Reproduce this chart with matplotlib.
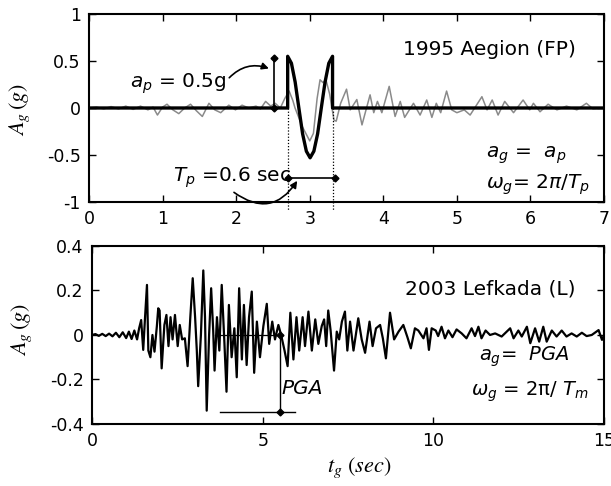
import matplotlib
matplotlib.use("Agg")
from matplotlib import pyplot as plt
import numpy as np

aeg_t = [0.0, 0.1, 0.2, 0.3, 0.4, 0.5, 0.6, 0.7, 0.8, 0.87, 0.93, 1.0, 1.06, 1.14, 1.22, 1.30,
         1.38, 1.46, 1.54, 1.63, 1.71, 1.79, 1.90, 1.99, 2.08, 2.17, 2.27, 2.33, 2.40, 2.47,
         2.53, 2.60, 2.66, 2.72, 2.77, 2.80, 2.90, 3.00, 3.05, 3.10, 3.14, 3.18, 3.22, 3.27,
         3.33, 3.36, 3.42, 3.50, 3.55, 3.64, 3.71, 3.82, 3.87, 3.92, 3.98, 4.08, 4.16, 4.23,
         4.29, 4.41, 4.50, 4.59, 4.66, 4.72, 4.78, 4.86, 4.93, 5.00, 5.10, 5.18, 5.34, 5.41,
         5.48, 5.56, 5.65, 5.77, 5.90, 5.99, 6.04, 6.13, 6.24, 6.36, 6.49, 6.63, 6.76, 6.85,
         7.0]
aeg_a = [0.0, 0.01, -0.01, 0.015, -0.01, 0.02, -0.015, 0.02, -0.02, 0.01, -0.075, 0.01, 0.04,
         -0.02, -0.06, 0.0, 0.04, -0.03, -0.09, 0.05, -0.02, -0.05, 0.03, -0.02, 0.03, 0.0,
         0.02, -0.01, 0.07, 0.02, 0.05, 0.0, 0.10, 0.18, 0.08, 0.0, -0.2, -0.35, -0.27, 0.1,
         0.3, 0.27, 0.3, 0.15, -0.13, -0.14, 0.05, 0.2, -0.02, 0.09, -0.18, 0.14, -0.05, 0.07,
         -0.05, 0.23, -0.09, 0.07, -0.10, 0.05, -0.075, 0.085, -0.10, 0.05, -0.05, 0.18, -0.02,
         -0.05, -0.02, -0.075, 0.12, -0.02, 0.085, -0.075, 0.07, -0.05, 0.085, -0.02, 0.05,
         -0.04, 0.04, -0.02, 0.02, -0.02, 0.05, -0.01, 0.0]

# ---- idealised pulse (bold)
pulse_t = [0.0, 2.70, 2.70, 2.751, 2.802, 2.852, 2.903, 2.954, 3.005, 3.056, 3.107, 3.157,
           3.208, 3.259, 3.31, 3.31, 7.0]
pulse_a = [0.0, 0.0, 0.55, 0.476, 0.275, 0.0, -0.275, -0.46, -0.53, -0.46, -0.275, 0.0,
           0.275, 0.476, 0.55, 0.0, 0.0]

# ---- 2003 Lefkada (L)
lef_t = [0.0, 0.1, 0.2, 0.3, 0.4, 0.5, 0.6, 0.7, 0.8, 0.9, 1.0, 1.08, 1.16, 1.24, 1.32, 1.38,
         1.44, 1.50, 1.55, 1.61, 1.65, 1.71, 1.77, 1.83, 1.90, 1.94, 1.98, 2.04, 2.12, 2.18,
         2.24, 2.30, 2.36, 2.43, 2.51, 2.57, 2.64, 2.72, 2.80, 2.88, 2.95, 3.02, 3.07, 3.11,
         3.19, 3.26, 3.31, 3.36, 3.43, 3.49, 3.55, 3.59, 3.66, 3.73, 3.80, 3.88, 3.94, 4.01,
         4.09, 4.17, 4.24, 4.31, 4.39, 4.45, 4.53, 4.60, 4.68, 4.75, 4.83, 4.92, 5.02, 5.12,
         5.19, 5.28, 5.36, 5.46, 5.54, 5.64, 5.73, 5.81, 5.90, 5.99, 6.07, 6.17, 6.24, 6.34,
         6.44, 6.54, 6.63, 6.73, 6.80, 6.86, 6.92, 6.99, 7.09, 7.17, 7.24, 7.32, 7.41, 7.48,
         7.56, 7.66, 7.80, 7.90, 8.00, 8.13, 8.22, 8.32, 8.44, 8.52, 8.61, 8.73, 8.85, 8.98,
         9.12, 9.24, 9.34, 9.46, 9.56, 9.71, 9.80, 9.87, 9.95, 10.07, 10.14, 10.24, 10.34,
         10.44, 10.56, 10.68, 10.83, 10.97, 11.12, 11.22, 11.32, 11.41, 11.53, 11.66, 11.81,
         12.0, 12.25, 12.35, 12.49, 12.59, 12.74, 12.84, 12.98, 13.10, 13.22, 13.32, 13.47,
         13.61, 13.76, 13.90, 14.05, 14.20, 14.35, 14.49, 14.64, 14.84, 14.94, 15.0]
lef_a = [0.0, 0.004, -0.004, 0.005, -0.005, 0.006, -0.006, 0.01, -0.01, 0.012, -0.014, 0.015,
         -0.018, 0.02, -0.02, 0.03, 0.067, -0.067, 0.07, 0.225, -0.07, -0.10, 0.0, -0.075, 0.04,
         0.12, 0.11, -0.15, 0.045, 0.09, -0.05, 0.08, -0.02, 0.09, -0.05, 0.045, -0.02, -0.015,
         -0.14, 0.08, 0.255, 0.08, -0.07, -0.23, 0.0, 0.29, 0.08, -0.34, 0.0, 0.21, 0.02, -0.16,
         0.08, -0.07, 0.225, -0.04, -0.255, 0.135, -0.10, 0.03, -0.19, 0.21, -0.11, 0.135,
         -0.135, 0.08, 0.195, -0.17, 0.06, -0.10, 0.04, 0.14, -0.04, 0.06, -0.02, 0.045, 0.0,
         -0.07, -0.14, 0.10, -0.11, 0.08, -0.07, 0.08, -0.05, 0.105, -0.07, 0.07, -0.04, 0.04,
         0.07, -0.05, 0.11, 0.02, -0.16, 0.015, -0.02, 0.06, 0.105, -0.07, 0.06, -0.07, 0.075,
         -0.02, -0.08, 0.06, -0.05, 0.03, 0.045, -0.015, -0.105, 0.10, -0.02, 0.015, 0.045,
         -0.01, -0.06, 0.03, 0.02, -0.015, 0.03, -0.067, 0.03, 0.02, -0.005, 0.037, -0.015,
         0.02, -0.01, 0.025, 0.007, -0.015, 0.03, -0.005, 0.037, -0.015, 0.02, 0.0, 0.007,
         -0.007, 0.03, -0.015, 0.02, -0.007, 0.037, -0.037, 0.03, -0.03, 0.037, -0.03, 0.02,
         -0.007, 0.02, -0.007, 0.007, -0.007, 0.01, -0.005, 0.0, 0.022, -0.022, 0.0]

# annotation values
ap_t, ap_val = 2.51, 0.53
tp_start, tp_end, tp_y = 2.70, 3.34, -0.75
pga_t, pga_val = 5.51, -0.345

fig = plt.figure(figsize=(6.11, 4.86), dpi=100)
ax1 = fig.add_axes([0.1457, 0.5844, 0.8429, 0.3868])
ax2 = fig.add_axes([0.1506, 0.1276, 0.838, 0.3663])

for ax in (ax1, ax2):
    for sp in ax.spines.values():
        sp.set_linewidth(1.5)
    ax.tick_params(direction="in", top=True, right=True, length=5, width=1,
                   labelsize=12.5, pad=6)

# ---- top panel
ax1.plot(aeg_t, aeg_a, color="#8a8a8a", lw=1.1)
ax1.plot(pulse_t, pulse_a, color="black", lw=2.4)
ax1.set_xlim(0, 7)
ax1.set_ylim(-1, 1)
ax1.set_xticks(range(0, 8))
ax1.set_yticks([-1, -0.5, 0, 0.5, 1])
ax1.set_yticklabels(["-1", "-0.5", "0", "0.5", "1"])

for tx in (2.70, 3.31):
    ax1.plot([tx, tx], [0, -1.1], color="black", lw=0.9, ls=(0, (1, 1.5)), clip_on=False)

ax1.plot([ap_t, ap_t], [0, ap_val], color="black", lw=1.2, marker="D", ms=3.5)
ax1.plot([tp_start, tp_end], [tp_y, tp_y], color="black", lw=1.2, marker="D", ms=3.5)

ax1.annotate("", xy=(ap_t - 0.03, 0.41), xytext=(1.88, 0.3),
             arrowprops=dict(arrowstyle="-|>", color="black", lw=1.2,
                             connectionstyle="arc3,rad=-0.35", mutation_scale=10))
ax1.annotate("", xy=(2.85, tp_y), xytext=(1.94, -0.88), annotation_clip=False,
             arrowprops=dict(arrowstyle="-|>", color="black", lw=1.2,
                             connectionstyle="arc3,rad=0.55", mutation_scale=10))

ax1.text(0.56, 0.26, r"$a_p$ = 0.5g", fontsize=14.5, ha="left", va="center")
ax1.text(1.14, -0.74, r"$T_p$ =0.6 sec", fontsize=14.5, ha="left", va="center")
ax1.text(0.945, 0.81, "1995 Aegion (FP)", fontsize=14.5, ha="right", va="center",
         transform=ax1.transAxes)
ax1.text(0.77, 0.25, r"$a_g$ =  $a_p$", fontsize=14.5, ha="left", va="center",
         transform=ax1.transAxes)
ax1.text(0.77, 0.09, r"$\omega_g$= $2\pi/T_p$", fontsize=14.5, ha="left", va="center",
         transform=ax1.transAxes)

# ---- bottom panel
ax2.plot(lef_t, lef_a, color="black", lw=1.6)
ax2.set_xlim(0, 15)
ax2.set_ylim(-0.4, 0.4)
ax2.set_xticks([0, 5, 10, 15])
ax2.set_yticks([-0.4, -0.2, 0, 0.2, 0.4])
ax2.set_yticklabels(["-0.4", "-0.2", "0", "0.2", "0.4"])

ax2.plot([3.6, pga_t], [0, 0], color="black", lw=0.9)
ax2.plot([pga_t, pga_t], [0, pga_val], color="black", lw=1.0, marker="D", ms=3.5)
ax2.plot([3.75, 5.95], [pga_val, pga_val], color="black", lw=1.0)
ax2.text(5.55, -0.24, "PGA", fontsize=14.5, style="italic", ha="left", va="center")
ax2.text(0.945, 0.76, "2003 Lefkada (L)", fontsize=14.5, ha="right", va="center",
         transform=ax2.transAxes)
ax2.text(0.755, 0.375, r"$a_g$=  $PGA$", fontsize=14, ha="left", va="center",
         transform=ax2.transAxes)
ax2.text(0.74, 0.18, r"$\omega_g$ = 2$\mathrm{\pi}$/ $T_m$", fontsize=14, ha="left",
         va="center", transform=ax2.transAxes)

# axis labels in a Times-like math font
fig.text(20 / 611, 1 - 110 / 486, r"$A_g\,(g)$", rotation=90, fontsize=16,
         ha="center", va="center", math_fontfamily="stix")
fig.text(22 / 611, 1 - 330 / 486, r"$A_g\,(g)$", rotation=90, fontsize=16,
         ha="center", va="center", math_fontfamily="stix")
fig.text(359 / 611, 1 - 468 / 486, r"$t_g\ (sec)$", fontsize=16,
         ha="center", va="center", math_fontfamily="stix")

fig.savefig("out.png", dpi=100)
